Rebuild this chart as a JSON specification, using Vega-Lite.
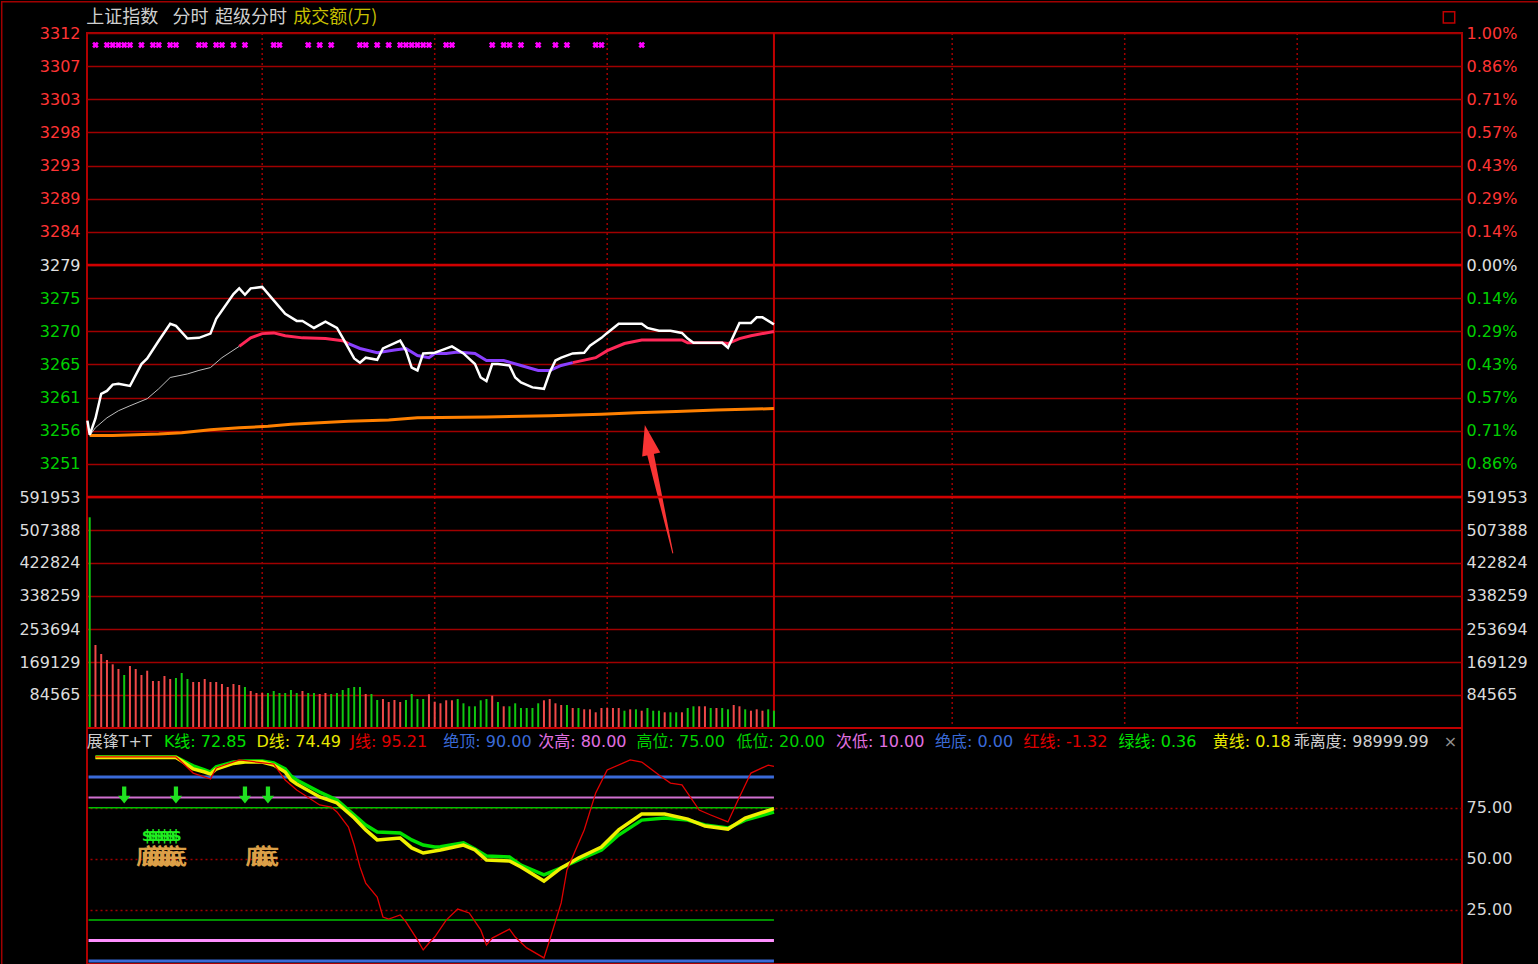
{
"$schema": "https://vega.github.io/schema/vega-lite/v6.json",
"width": 1375,
"height": 931,
"autosize": {"type": "none"},
"padding": {"left": 87, "top": 33, "right": 76, "bottom": 0},
"background": "#000000",
"config": {
  "view": {"stroke": "#b00000", "strokeWidth": 2},
  "scale": {"continuousPadding": 0},
  "axis": {"labelFont": "DejaVu Sans", "labelFontSize": 16, "ticks": false, "domain": false, "labelOverlap": false, "labelFlush": false}
},
"datasets": {
  "price": [
    {"i":-0.4,"p":3257.3},{"i":0,"p":3255.3},{"i":1,"p":3257.6},{"i":2,"p":3261.1},{"i":3,"p":3261.5},{"i":4,"p":3262.4},{"i":5,"p":3262.5},{"i":7,"p":3262.2},{"i":9,"p":3265.3},{"i":10,"p":3266.1},{"i":12,"p":3268.6},{"i":14,"p":3271.0},{"i":15,"p":3270.7},{"i":17,"p":3268.9},{"i":19,"p":3269.0},{"i":21,"p":3269.6},{"i":22,"p":3271.7},{"i":25,"p":3275.2},{"i":26,"p":3276.0},{"i":27,"p":3275.1},{"i":28,"p":3276.0},{"i":30,"p":3276.2},{"i":32,"p":3274.3},{"i":34,"p":3272.4},{"i":36,"p":3271.4},{"i":37,"p":3271.4},{"i":39,"p":3270.4},{"i":41,"p":3271.3},{"i":43,"p":3270.4},{"i":44,"p":3269.0},{"i":46,"p":3266.1},{"i":47,"p":3265.5},{"i":48,"p":3266.2},{"i":50,"p":3265.9},{"i":51,"p":3267.5},{"i":54,"p":3268.6},{"i":55,"p":3267.2},{"i":56,"p":3264.8},{"i":57,"p":3264.4},{"i":58,"p":3266.8},{"i":60,"p":3266.9},{"i":61,"p":3267.2},{"i":63,"p":3267.8},{"i":65,"p":3266.8},{"i":67,"p":3265.3},{"i":68,"p":3263.4},{"i":69,"p":3262.9},{"i":70,"p":3265.3},{"i":71,"p":3265.3},{"i":73,"p":3265.1},{"i":74,"p":3263.4},{"i":75,"p":3262.7},{"i":77,"p":3262.0},{"i":79,"p":3261.8},{"i":80,"p":3264.1},{"i":81,"p":3265.8},{"i":82,"p":3266.2},{"i":84,"p":3266.8},{"i":86,"p":3266.9},{"i":87,"p":3267.9},{"i":89,"p":3269.0},{"i":90,"p":3269.7},{"i":92,"p":3271.0},{"i":96,"p":3271.0},{"i":97,"p":3270.4},{"i":99,"p":3270.0},{"i":101,"p":3270.0},{"i":103,"p":3269.7},{"i":104,"p":3268.9},{"i":105,"p":3268.3},{"i":110,"p":3268.3},{"i":111,"p":3267.6},{"i":113,"p":3271.1},{"i":115,"p":3271.1},{"i":116,"p":3271.9},{"i":117,"p":3271.9},{"i":119,"p":3270.9}
  ],
  "avg": [
    {"i":0,"p":3255.2,"seg":"a"},{"i":1,"p":3256.3,"seg":"a"},{"i":3,"p":3257.7,"seg":"a"},{"i":5,"p":3258.7,"seg":"a"},{"i":7,"p":3259.4,"seg":"a"},{"i":10,"p":3260.4,"seg":"a"},{"i":12,"p":3261.8,"seg":"a"},{"i":14,"p":3263.4,"seg":"a"},{"i":17,"p":3263.9,"seg":"a"},{"i":19,"p":3264.4,"seg":"a"},{"i":21,"p":3264.8,"seg":"a"},{"i":23,"p":3266.2,"seg":"a"},{"i":26,"p":3267.8,"seg":"a"},
    {"i":26,"p":3267.8,"seg":"b"},{"i":28,"p":3269.0,"seg":"b"},{"i":30,"p":3269.6,"seg":"b"},{"i":32,"p":3269.7,"seg":"b"},{"i":34,"p":3269.3,"seg":"b"},{"i":37,"p":3269.0,"seg":"b"},{"i":41,"p":3268.9,"seg":"b"},{"i":44,"p":3268.6,"seg":"b"},{"i":45,"p":3268.2,"seg":"b"},
    {"i":45,"p":3268.2,"seg":"c"},{"i":47,"p":3267.5,"seg":"c"},{"i":50,"p":3266.9,"seg":"c"},{"i":53,"p":3267.3,"seg":"c"},{"i":55,"p":3267.5,"seg":"c"},{"i":57,"p":3266.5,"seg":"c"},{"i":59,"p":3266.2,"seg":"c"},{"i":60,"p":3266.8,"seg":"c"},{"i":62,"p":3266.8,"seg":"c"},{"i":64,"p":3267.0,"seg":"c"},{"i":67,"p":3266.8,"seg":"c"},{"i":69,"p":3265.8,"seg":"c"},{"i":72,"p":3265.8,"seg":"c"},{"i":75,"p":3265.1,"seg":"c"},{"i":78,"p":3264.4,"seg":"c"},{"i":80,"p":3264.4,"seg":"c"},{"i":82,"p":3265.1,"seg":"c"},{"i":84,"p":3265.5,"seg":"c"},
    {"i":84,"p":3265.5,"seg":"d"},{"i":88,"p":3266.2,"seg":"d"},{"i":90,"p":3267.2,"seg":"d"},{"i":93,"p":3268.2,"seg":"d"},{"i":96,"p":3268.7,"seg":"d"},{"i":103,"p":3268.7,"seg":"d"},{"i":104,"p":3268.3,"seg":"d"},{"i":110,"p":3268.3,"seg":"d"},{"i":111,"p":3268.2,"seg":"d"},{"i":113,"p":3268.9,"seg":"d"},{"i":115,"p":3269.3,"seg":"d"},{"i":119,"p":3269.9,"seg":"d"}
  ],
  "orange": [
    {"i":0,"p":3255.2},{"i":4,"p":3255.2},{"i":12,"p":3255.4},{"i":16,"p":3255.6},{"i":21,"p":3256.0},{"i":26,"p":3256.3},{"i":31,"p":3256.5},{"i":35,"p":3256.8},{"i":40,"p":3257.0},{"i":45,"p":3257.2},{"i":52,"p":3257.4},{"i":57,"p":3257.7},{"i":69,"p":3257.8},{"i":80,"p":3258.0},{"i":89,"p":3258.2},{"i":95,"p":3258.4},{"i":102,"p":3258.6},{"i":109,"p":3258.8},{"i":119,"p":3259.0}
  ],
  "marks": [
    {"i":1},{"i":3},{"i":4},{"i":5},{"i":6},{"i":7},{"i":9},{"i":11},{"i":12},{"i":14},{"i":15},{"i":19},{"i":20},{"i":22},{"i":23},{"i":25},{"i":27},{"i":32},{"i":33},{"i":38},{"i":40},{"i":42},{"i":47},{"i":48},{"i":50},{"i":52},{"i":54},{"i":55},{"i":56},{"i":57},{"i":58},{"i":59},{"i":62},{"i":63},{"i":70},{"i":72},{"i":73},{"i":75},{"i":78},{"i":81},{"i":83},{"i":88},{"i":89},{"i":96}
  ],
  "vgrid": [{"i":30},{"i":60},{"i":90},{"i":150},{"i":180},{"i":210}],
  "noon": [{"i":119}],
  "vol": [
    {"i":0,"vol":539940,"d":"G"},{"i":1,"vol":212700,"d":"R"},{"i":2,"vol":189630,"d":"R"},{"i":3,"vol":174260,"d":"R"},{"i":4,"vol":163240,"d":"R"},{"i":5,"vol":151190,"d":"R"},{"i":6,"vol":135820,"d":"G"},{"i":7,"vol":158880,"d":"R"},{"i":8,"vol":151190,"d":"R"},{"i":9,"vol":135820,"d":"R"},{"i":10,"vol":146840,"d":"R"},{"i":11,"vol":120440,"d":"R"},{"i":12,"vol":120440,"d":"R"},{"i":13,"vol":133260,"d":"R"},{"i":14,"vol":125570,"d":"R"},{"i":15,"vol":128130,"d":"G"},{"i":16,"vol":140940,"d":"G"},{"i":17,"vol":125570,"d":"G"},{"i":18,"vol":117880,"d":"R"},{"i":19,"vol":117880,"d":"R"},{"i":20,"vol":125570,"d":"R"},{"i":21,"vol":117880,"d":"R"},{"i":22,"vol":117880,"d":"R"},{"i":23,"vol":112750,"d":"R"},{"i":24,"vol":105070,"d":"R"},{"i":25,"vol":112750,"d":"R"},{"i":26,"vol":110190,"d":"R"},{"i":27,"vol":105070,"d":"G"},{"i":28,"vol":94820,"d":"R"},{"i":29,"vol":89690,"d":"R"},{"i":30,"vol":89690,"d":"R"},{"i":31,"vol":89690,"d":"G"},{"i":32,"vol":94820,"d":"G"},{"i":33,"vol":89690,"d":"G"},{"i":34,"vol":89690,"d":"G"},{"i":35,"vol":97380,"d":"G"},{"i":36,"vol":89690,"d":"G"},{"i":37,"vol":94820,"d":"R"},{"i":38,"vol":89690,"d":"G"},{"i":39,"vol":89690,"d":"G"},{"i":40,"vol":87130,"d":"R"},{"i":41,"vol":89690,"d":"R"},{"i":42,"vol":87130,"d":"G"},{"i":43,"vol":89690,"d":"G"},{"i":44,"vol":97380,"d":"G"},{"i":45,"vol":102500,"d":"G"},{"i":46,"vol":105070,"d":"G"},{"i":47,"vol":105070,"d":"G"},{"i":48,"vol":87130,"d":"R"},{"i":49,"vol":87130,"d":"G"},{"i":50,"vol":71750,"d":"G"},{"i":51,"vol":74320,"d":"R"},{"i":52,"vol":66630,"d":"R"},{"i":53,"vol":71750,"d":"R"},{"i":54,"vol":66630,"d":"R"},{"i":55,"vol":71750,"d":"G"},{"i":56,"vol":87130,"d":"G"},{"i":57,"vol":74320,"d":"G"},{"i":58,"vol":74320,"d":"G"},{"i":59,"vol":86360,"d":"R"},{"i":60,"vol":67400,"d":"R"},{"i":61,"vol":63300,"d":"R"},{"i":62,"vol":70980,"d":"R"},{"i":63,"vol":70980,"d":"R"},{"i":64,"vol":74320,"d":"G"},{"i":65,"vol":63300,"d":"G"},{"i":66,"vol":55610,"d":"G"},{"i":67,"vol":55610,"d":"G"},{"i":68,"vol":70980,"d":"G"},{"i":69,"vol":74320,"d":"G"},{"i":70,"vol":82770,"d":"R"},{"i":71,"vol":66630,"d":"G"},{"i":72,"vol":55610,"d":"R"},{"i":73,"vol":55610,"d":"G"},{"i":74,"vol":63300,"d":"G"},{"i":75,"vol":51250,"d":"G"},{"i":76,"vol":51250,"d":"G"},{"i":77,"vol":51250,"d":"G"},{"i":78,"vol":63300,"d":"G"},{"i":79,"vol":70980,"d":"R"},{"i":80,"vol":74320,"d":"R"},{"i":81,"vol":63300,"d":"R"},{"i":82,"vol":58940,"d":"R"},{"i":83,"vol":58940,"d":"G"},{"i":84,"vol":51250,"d":"R"},{"i":85,"vol":51250,"d":"G"},{"i":86,"vol":47920,"d":"R"},{"i":87,"vol":47920,"d":"R"},{"i":88,"vol":40230,"d":"R"},{"i":89,"vol":51250,"d":"R"},{"i":90,"vol":51250,"d":"R"},{"i":91,"vol":51250,"d":"R"},{"i":92,"vol":51250,"d":"R"},{"i":93,"vol":44330,"d":"G"},{"i":94,"vol":47920,"d":"R"},{"i":95,"vol":47920,"d":"G"},{"i":96,"vol":44330,"d":"R"},{"i":97,"vol":51250,"d":"G"},{"i":98,"vol":44330,"d":"G"},{"i":99,"vol":44330,"d":"G"},{"i":100,"vol":40230,"d":"R"},{"i":101,"vol":40230,"d":"G"},{"i":102,"vol":40230,"d":"G"},{"i":103,"vol":40230,"d":"R"},{"i":104,"vol":51250,"d":"G"},{"i":105,"vol":55610,"d":"G"},{"i":106,"vol":55610,"d":"R"},{"i":107,"vol":55610,"d":"R"},{"i":108,"vol":51250,"d":"G"},{"i":109,"vol":51250,"d":"R"},{"i":110,"vol":51250,"d":"G"},{"i":111,"vol":47920,"d":"G"},{"i":112,"vol":58940,"d":"R"},{"i":113,"vol":55610,"d":"R"},{"i":114,"vol":47920,"d":"G"},{"i":115,"vol":44330,"d":"R"},{"i":116,"vol":47920,"d":"R"},{"i":117,"vol":44330,"d":"R"},{"i":118,"vol":47920,"d":"G"},{"i":119,"vol":44330,"d":"G"}
  ],
  "K": [
    {"i":1,"v":99.8},{"i":15,"v":99.8},{"i":16,"v":98.3},{"i":18,"v":95.4},{"i":20,"v":93.4},{"i":21,"v":92.4},{"i":22,"v":94.9},{"i":25,"v":97.3},{"i":27,"v":97.8},{"i":30,"v":97.8},{"i":32,"v":96.8},{"i":34,"v":93.9},{"i":35,"v":90.5},{"i":36,"v":88.5},{"i":40,"v":82.6},{"i":43,"v":78.7},{"i":46,"v":71.4},{"i":48,"v":66.5},{"i":50,"v":63.1},{"i":54,"v":62.6},{"i":56,"v":59.2},{"i":58,"v":56.7},{"i":60,"v":55.7},{"i":61,"v":55.9},{"i":65,"v":57.8},{"i":67,"v":54.8},{"i":69,"v":51.3},{"i":73,"v":50.9},{"i":75,"v":46.9},{"i":79,"v":42.1},{"i":82,"v":45.5},{"i":85,"v":49.4},{"i":89,"v":54.3},{"i":92,"v":61.6},{"i":96,"v":68.9},{"i":100,"v":69.9},{"i":104,"v":68.9},{"i":107,"v":66.5},{"i":111,"v":65.0},{"i":114,"v":68.9},{"i":119,"v":72.85}
  ],
  "D": [
    {"i":1,"v":99.5},{"i":15,"v":99.5},{"i":16,"v":97.8},{"i":18,"v":93.9},{"i":20,"v":92.4},{"i":21,"v":91.4},{"i":22,"v":93.9},{"i":25,"v":96.6},{"i":27,"v":97.3},{"i":30,"v":97.3},{"i":32,"v":95.8},{"i":34,"v":92.4},{"i":35,"v":88.5},{"i":36,"v":86.6},{"i":40,"v":80.2},{"i":43,"v":77.3},{"i":46,"v":69.9},{"i":48,"v":64.1},{"i":50,"v":59.2},{"i":54,"v":60.1},{"i":56,"v":55.3},{"i":58,"v":52.8},{"i":61,"v":54.3},{"i":65,"v":56.7},{"i":67,"v":54.3},{"i":69,"v":49.4},{"i":73,"v":48.9},{"i":75,"v":46.0},{"i":79,"v":39.1},{"i":82,"v":45.5},{"i":85,"v":50.4},{"i":89,"v":55.7},{"i":92,"v":64.1},{"i":96,"v":71.9},{"i":100,"v":71.9},{"i":104,"v":69.4},{"i":107,"v":66.0},{"i":111,"v":64.5},{"i":114,"v":69.9},{"i":119,"v":74.49}
  ],
  "J": [
    {"i":1,"v":99.8},{"i":15,"v":99.8},{"i":16,"v":97.3},{"i":18,"v":91.9},{"i":21,"v":89.0},{"i":22,"v":94.4},{"i":26,"v":98.3},{"i":29,"v":97.3},{"i":32,"v":96.3},{"i":34,"v":88.5},{"i":36,"v":83.6},{"i":40,"v":76.3},{"i":42,"v":75.3},{"i":43,"v":72.9},{"i":45,"v":65.5},{"i":46,"v":56.7},{"i":47,"v":46.0},{"i":48,"v":38.1},{"i":50,"v":31.3},{"i":51,"v":21.5},{"i":52,"v":20.5},{"i":54,"v":22.5},{"i":55,"v":19.1},{"i":57,"v":10.3},{"i":58,"v":5.4},{"i":59,"v":8.8},{"i":60,"v":11.7},{"i":62,"v":20.0},{"i":64,"v":25.4},{"i":66,"v":23.5},{"i":68,"v":15.2},{"i":69,"v":7.8},{"i":70,"v":11.2},{"i":73,"v":15.6},{"i":74,"v":11.7},{"i":76,"v":6.4},{"i":79,"v":1.5},{"i":80,"v":10.3},{"i":82,"v":28.4},{"i":83,"v":44.5},{"i":86,"v":64.1},{"i":88,"v":82.2},{"i":90,"v":93.4},{"i":94,"v":98.3},{"i":96,"v":97.3},{"i":99,"v":91.0},{"i":101,"v":87.0},{"i":103,"v":86.1},{"i":106,"v":73.8},{"i":108,"v":71.4},{"i":111,"v":68.0},{"i":113,"v":80.2},{"i":115,"v":91.9},{"i":118,"v":95.8},{"i":119,"v":95.21}
  ],
  "sellarrows": [{"i":6},{"i":15},{"i":27},{"i":31}],
  "dollar": [{"i":10},{"i":11},{"i":12},{"i":13},{"i":14},{"i":15}],
  "bottom": [{"i":10},{"i":11},{"i":12},{"i":13},{"i":14},{"i":15},{"i":29},{"i":30},{"i":31}],
  "head": [
    {"t":"上证指数","i":-0.6,"g":"w"},{"t":"分时","i":14.4,"g":"w"},{"t":"超级分时","i":21.8,"g":"w"},{"t":"成交额(万)","i":35.4,"g":"y"}
  ],
  "ihead": [
    {"t":"展锋T+T","i":-0.52,"g":"n"},{"t":"K线: 72.85","i":12.9,"g":"K"},{"t":"D线: 74.49","i":29.0,"g":"D"},{"t":"J线: 95.21","i":45.3,"g":"J"},{"t":"绝顶: 90.00","i":61.5,"g":"b"},{"t":"次高: 80.00","i":78.0,"g":"p"},{"t":"高位: 75.00","i":95.1,"g":"g"},{"t":"低位: 20.00","i":112.5,"g":"g"},{"t":"次低: 10.00","i":129.8,"g":"p"},{"t":"绝底: 0.00","i":147.0,"g":"b"},{"t":"红线: -1.32","i":162.4,"g":"J"},{"t":"绿线: 0.36","i":178.9,"g":"K"},{"t":"黄线: 0.18","i":195.3,"g":"D"},{"t":"乖离度: 98999.99","i":209.4,"g":"n"},{"t":"×","i":235.5,"g":"x"}
  ],
  "arrow": [{"i":101.4,"p":3238.6,"t":0},{"i":97.4,"p":3253.0,"t":1}],
  "arrowhead": [{"i":97.1,"p":3254.6}],
  "frame": [{"i":-15.4},{"i":251.9}],
  "icon": [{"i":236.4,"p":3314.3}]
},
"layer": [
  {
    "layer": [
      {"data": {"name": "frame"}, "mark": {"type": "line", "color": "#a00000", "strokeWidth": 1.5, "clip": false},
       "encoding": {"x": {"field": "i", "type": "quantitative", "scale": {"domain": [-0.47, 238.66], "nice": false, "zero": false}, "axis": null},
                    "y": {"datum": 3316.5, "type": "quantitative", "axis": null}}},
      {"data": {"values": [{}]}, "mark": {"type": "rule", "color": "#a00000", "strokeWidth": 1.5},
       "encoding": {"x": {"datum": -15.3, "type": "quantitative", "scale": {"domain": [-0.47, 238.66], "nice": false, "zero": false}, "axis": null},
                    "y": {"datum": 3316.6, "type": "quantitative", "axis": null}, "y2": {"datum": 3180.5}}},
      {"data": {"name": "icon"}, "mark": {"type": "point", "shape": "square", "filled": false, "color": "#c00000", "strokeWidth": 1.5, "size": 130, "opacity": 1},
       "encoding": {"x": {"field": "i", "type": "quantitative", "scale": {"domain": [-0.47, 238.66], "nice": false, "zero": false}, "axis": null},
                    "y": {"field": "p", "type": "quantitative", "scale": {"domain": [3246.507, 3312.093], "range": [464, 0], "nice": false, "zero": false}, "axis": null}}},
      {"data": {"name": "vgrid"}, "mark": {"type": "rule", "color": "#a00000", "strokeWidth": 1.5, "strokeDash": [2, 3]},
       "encoding": {"x": {"field": "i", "type": "quantitative", "scale": {"domain": [-0.47, 238.66], "nice": false, "zero": false}, "axis": null},
                    "y": {"datum": 3312.093, "type": "quantitative", "axis": null}, "y2": {"datum": 3246.507}}},
      {"data": {"name": "noon"}, "mark": {"type": "rule", "color": "#c00000", "strokeWidth": 2},
       "encoding": {"x": {"field": "i", "type": "quantitative", "scale": {"domain": [-0.47, 238.66], "nice": false, "zero": false}, "axis": null},
                    "y": {"datum": 3312.093, "type": "quantitative", "axis": null}, "y2": {"datum": 3246.507}}},
      {"data": {"values": [{}]}, "mark": {"type": "rule", "color": "#d00000", "strokeWidth": 2.5},
       "encoding": {"y": {"datum": 3279.3, "type": "quantitative", "axis": null}}},
      {"data": {"name": "orange"}, "mark": {"type": "line", "color": "#ff8000", "strokeWidth": 3},
       "encoding": {"x": {"field": "i", "type": "quantitative", "scale": {"domain": [-0.47, 238.66], "nice": false, "zero": false}, "axis": null},
                    "y": {"field": "p", "type": "quantitative", "scale": {"domain": [3246.507, 3312.093], "range": [464, 0], "nice": false, "zero": false}, "axis": null}}},
      {"data": {"name": "avg"}, "transform": [{"filter": "datum.seg == 'a'"}], "mark": {"type": "line", "color": "#bdbdbd", "strokeWidth": 1},
       "encoding": {"x": {"field": "i", "type": "quantitative", "scale": {"domain": [-0.47, 238.66], "nice": false, "zero": false}, "axis": null},
                    "y": {"field": "p", "type": "quantitative", "scale": {"domain": [3246.507, 3312.093], "range": [464, 0], "nice": false, "zero": false}, "axis": null}}},
      {"data": {"name": "avg"}, "transform": [{"filter": "datum.seg == 'b' || datum.seg == 'd'"}], "mark": {"type": "line", "color": "#ff2858", "strokeWidth": 3},
       "encoding": {"x": {"field": "i", "type": "quantitative", "scale": {"domain": [-0.47, 238.66], "nice": false, "zero": false}, "axis": null},
                    "detail": {"field": "seg", "type": "nominal"},
                    "y": {"field": "p", "type": "quantitative", "scale": {"domain": [3246.507, 3312.093], "range": [464, 0], "nice": false, "zero": false},
                          "axis": {"orient": "right", "title": null, "values": [3251.192, 3255.876, 3260.561, 3265.246, 3269.931, 3274.615, 3279.3, 3283.985, 3288.669, 3293.354, 3298.039, 3302.724, 3307.408, 3312.093],
                                   "labelExpr": "format(abs(datum.value/3279.3-1)*100, '.2f') + '%'",
                                   "labelColor": {"condition": [{"test": "datum.value > 3280", "value": "#ff3434"}, {"test": "datum.value < 3278", "value": "#00d000"}], "value": "#e0e0e0"},
                                   "labelPadding": 4, "grid": false}}}},
      {"data": {"name": "avg"}, "transform": [{"filter": "datum.seg == 'c'"}], "mark": {"type": "line", "color": "#8a40ff", "strokeWidth": 3},
       "encoding": {"x": {"field": "i", "type": "quantitative", "scale": {"domain": [-0.47, 238.66], "nice": false, "zero": false}, "axis": null},
                    "y": {"field": "p", "type": "quantitative", "scale": {"domain": [3246.507, 3312.093], "range": [464, 0], "nice": false, "zero": false}, "axis": null}}},
      {"data": {"name": "price"}, "mark": {"type": "line", "color": "#ffffff", "strokeWidth": 2.5},
       "encoding": {"x": {"field": "i", "type": "quantitative", "scale": {"domain": [-0.47, 238.66], "nice": false, "zero": false}, "axis": null},
                    "y": {"field": "p", "type": "quantitative", "scale": {"domain": [3246.507, 3312.093], "range": [464, 0], "nice": false, "zero": false},
                          "axis": {"orient": "left", "title": null, "values": [3251.192, 3255.876, 3260.561, 3265.246, 3269.931, 3274.615, 3279.3, 3283.985, 3288.669, 3293.354, 3298.039, 3302.724, 3307.408, 3312.093],
                                   "labelExpr": "format(round(datum.value), 'd')",
                                   "labelColor": {"condition": [{"test": "datum.value > 3280", "value": "#ff3434"}, {"test": "datum.value < 3278", "value": "#00d000"}], "value": "#e0e0e0"},
                                   "labelPadding": 7, "grid": true, "gridColor": "#a00000", "gridWidth": 1.5}}}},
      {"data": {"name": "marks"}, "mark": {"type": "point", "shape": "cross", "angle": 45, "filled": true, "color": "#ff00ff", "size": 45, "opacity": 1},
       "encoding": {"x": {"field": "i", "type": "quantitative", "scale": {"domain": [-0.47, 238.66], "nice": false, "zero": false}, "axis": null},
                    "y": {"datum": 3310.4, "type": "quantitative", "axis": null}}},
      {"data": {"name": "head"}, "mark": {"type": "text", "align": "left", "baseline": "middle", "font": "Noto Sans CJK SC", "fontSize": 18},
       "encoding": {"x": {"field": "i", "type": "quantitative", "scale": {"domain": [-0.47, 238.66], "nice": false, "zero": false}, "axis": null},
                    "y": {"datum": 3314.2, "type": "quantitative", "axis": null},
                    "text": {"field": "t"},
                    "color": {"field": "g", "type": "nominal", "scale": {"domain": ["w", "y"], "range": ["#cfcfcf", "#c8c000"]}, "legend": null}}},
      {"data": {"name": "arrow"}, "mark": {"type": "trail", "color": "#f83434"},
       "encoding": {"x": {"field": "i", "type": "quantitative", "scale": {"domain": [-0.47, 238.66], "nice": false, "zero": false}, "axis": null},
                    "y": {"field": "p", "type": "quantitative", "scale": {"domain": [3246.507, 3312.093], "range": [464, 0], "nice": false, "zero": false}, "axis": null},
                    "size": {"field": "t", "type": "quantitative", "scale": {"domain": [0, 1], "range": [1, 7]}, "legend": null}}},
      {"data": {"name": "arrowhead"}, "mark": {"type": "point", "shape": "M0,-1L0.62,1L-0.62,1Z", "angle": -12.3, "filled": true, "color": "#f83434", "size": 900, "opacity": 1},
       "encoding": {"x": {"field": "i", "type": "quantitative", "scale": {"domain": [-0.47, 238.66], "nice": false, "zero": false}, "axis": null},
                    "y": {"field": "p", "type": "quantitative", "scale": {"domain": [3246.507, 3312.093], "range": [464, 0], "nice": false, "zero": false}, "axis": null}}}
    ],
    "resolve": {"axis": {"y": "independent"}}
  },
  {
    "layer": [
      {"data": {"name": "vgrid"}, "mark": {"type": "rule", "color": "#a00000", "strokeWidth": 1.5, "strokeDash": [2, 3]},
       "encoding": {"x": {"field": "i", "type": "quantitative", "scale": {"domain": [-0.47, 238.66], "nice": false, "zero": false}, "axis": null},
                    "y": {"datum": 591953, "type": "quantitative", "axis": null}, "y2": {"datum": 0}}},
      {"data": {"name": "noon"}, "mark": {"type": "rule", "color": "#c00000", "strokeWidth": 2},
       "encoding": {"x": {"field": "i", "type": "quantitative", "scale": {"domain": [-0.47, 238.66], "nice": false, "zero": false}, "axis": null},
                    "y": {"datum": 591953, "type": "quantitative", "axis": null}, "y2": {"datum": 0}}},
      {"data": {"name": "vol"}, "transform": [{"filter": "datum.d == 'R'"}], "mark": {"type": "bar", "color": "#f04848", "width": 2},
       "encoding": {"x": {"field": "i", "type": "quantitative", "scale": {"domain": [-0.47, 238.66], "nice": false, "zero": false}, "axis": null},
                    "y": {"field": "vol", "type": "quantitative", "scale": {"domain": [0, 591953], "range": [695, 464], "nice": false, "zero": false},
                          "axis": {"orient": "left", "title": null, "values": [84565, 169129, 253694, 338259, 422824, 507388, 591953],
                                   "labelExpr": "format(datum.value, 'd')", "labelColor": "#dcdcdc", "labelPadding": 7,
                                   "grid": true, "gridColor": "#a00000", "gridWidth": 1.5}}}},
      {"data": {"name": "vol"}, "transform": [{"filter": "datum.d == 'G'"}], "mark": {"type": "bar", "color": "#10c810", "width": 2},
       "encoding": {"x": {"field": "i", "type": "quantitative", "scale": {"domain": [-0.47, 238.66], "nice": false, "zero": false}, "axis": null},
                    "y": {"field": "vol", "type": "quantitative", "scale": {"domain": [0, 591953], "range": [695, 464], "nice": false, "zero": false},
                          "axis": {"orient": "right", "title": null, "values": [84565, 169129, 253694, 338259, 422824, 507388, 591953],
                                   "labelExpr": "format(datum.value, 'd')", "labelColor": "#dcdcdc", "labelPadding": 4, "grid": false}}}},
      {"data": {"values": [{}]}, "mark": {"type": "rule", "color": "#d00000", "strokeWidth": 2.5},
       "encoding": {"y": {"datum": 591953, "type": "quantitative", "axis": null}}},
      {"data": {"values": [{}]}, "mark": {"type": "rule", "color": "#c00000", "strokeWidth": 2},
       "encoding": {"y": {"datum": 0, "type": "quantitative", "axis": null}}}
    ],
    "resolve": {"axis": {"y": "independent"}}
  },
  {
    "layer": [
      {"data": {"values": [{}]}, "mark": {"type": "rule", "color": "#3a6ad8", "strokeWidth": 3},
       "encoding": {"x": {"datum": -0.2, "type": "quantitative", "scale": {"domain": [-0.47, 238.66], "nice": false, "zero": false}, "axis": null}, "x2": {"datum": 119},
                    "y": {"datum": 90, "type": "quantitative", "axis": null}}},
      {"data": {"values": [{}]}, "mark": {"type": "rule", "color": "#d070d0", "strokeWidth": 2},
       "encoding": {"x": {"datum": -0.2, "type": "quantitative", "scale": {"domain": [-0.47, 238.66], "nice": false, "zero": false}, "axis": null}, "x2": {"datum": 119},
                    "y": {"datum": 80, "type": "quantitative", "axis": null}}},
      {"data": {"values": [{}]}, "mark": {"type": "rule", "color": "#00c000", "strokeWidth": 1.5},
       "encoding": {"x": {"datum": -0.2, "type": "quantitative", "scale": {"domain": [-0.47, 238.66], "nice": false, "zero": false}, "axis": null}, "x2": {"datum": 119},
                    "y": {"datum": 75, "type": "quantitative", "axis": null}}},
      {"data": {"values": [{}]}, "mark": {"type": "rule", "color": "#00c000", "strokeWidth": 1.5},
       "encoding": {"x": {"datum": -0.2, "type": "quantitative", "scale": {"domain": [-0.47, 238.66], "nice": false, "zero": false}, "axis": null}, "x2": {"datum": 119},
                    "y": {"datum": 20, "type": "quantitative", "axis": null}}},
      {"data": {"values": [{}]}, "mark": {"type": "rule", "color": "#ff90ff", "strokeWidth": 3},
       "encoding": {"x": {"datum": -0.2, "type": "quantitative", "scale": {"domain": [-0.47, 238.66], "nice": false, "zero": false}, "axis": null}, "x2": {"datum": 119},
                    "y": {"datum": 10, "type": "quantitative", "axis": null}}},
      {"data": {"values": [{}]}, "mark": {"type": "rule", "color": "#3a6ad8", "strokeWidth": 3},
       "encoding": {"x": {"datum": -0.2, "type": "quantitative", "scale": {"domain": [-0.47, 238.66], "nice": false, "zero": false}, "axis": null}, "x2": {"datum": 119},
                    "y": {"datum": 0, "type": "quantitative", "axis": null}}},
      {"data": {"name": "K"}, "mark": {"type": "line", "color": "#00e000", "strokeWidth": 3.5},
       "encoding": {"x": {"field": "i", "type": "quantitative", "scale": {"domain": [-0.47, 238.66], "nice": false, "zero": false}, "axis": null},
                    "y": {"field": "v", "type": "quantitative", "scale": {"domain": [0, 100], "range": [928, 723.5], "nice": false, "zero": false},
                          "axis": {"orient": "right", "title": null, "values": [25, 50, 75], "labelExpr": "format(datum.value, '.2f')", "labelColor": "#d8d8d8", "labelPadding": 4,
                                   "grid": true, "gridColor": "#a00000", "gridWidth": 1.5, "gridDash": [2, 3]}}}},
      {"data": {"name": "D"}, "mark": {"type": "line", "color": "#f0f000", "strokeWidth": 3.5},
       "encoding": {"x": {"field": "i", "type": "quantitative", "scale": {"domain": [-0.47, 238.66], "nice": false, "zero": false}, "axis": null},
                    "y": {"field": "v", "type": "quantitative", "scale": {"domain": [0, 100], "range": [928, 723.5], "nice": false, "zero": false}, "axis": null}}},
      {"data": {"name": "J"}, "mark": {"type": "line", "color": "#e00000", "strokeWidth": 1.3},
       "encoding": {"x": {"field": "i", "type": "quantitative", "scale": {"domain": [-0.47, 238.66], "nice": false, "zero": false}, "axis": null},
                    "y": {"field": "v", "type": "quantitative", "scale": {"domain": [0, 100], "range": [928, 723.5], "nice": false, "zero": false}, "axis": null}}},
      {"data": {"name": "sellarrows"}, "mark": {"type": "point", "shape": "M-0.25,-1L0.25,-1L0.25,0.1L0.72,0.1L0,1L-0.72,0.1L-0.25,0.1Z", "filled": true, "color": "#20e020", "size": 289, "opacity": 1},
       "encoding": {"x": {"field": "i", "type": "quantitative", "scale": {"domain": [-0.47, 238.66], "nice": false, "zero": false}, "axis": null},
                    "y": {"datum": 81.2, "type": "quantitative", "axis": null}}},
      {"data": {"name": "bottom"}, "mark": {"type": "text", "text": "底", "font": "Noto Sans CJK SC", "fontWeight": "bold", "fontSize": 22, "color": "#dca048", "baseline": "middle", "align": "center"},
       "encoding": {"x": {"field": "i", "type": "quantitative", "scale": {"domain": [-0.47, 238.66], "nice": false, "zero": false}, "axis": null},
                    "y": {"datum": 51, "type": "quantitative", "axis": null}}},
      {"data": {"name": "dollar"}, "mark": {"type": "text", "text": "$", "font": "DejaVu Sans", "fontWeight": "bold", "fontSize": 16, "color": "#20f020", "baseline": "middle", "align": "center"},
       "encoding": {"x": {"field": "i", "type": "quantitative", "scale": {"domain": [-0.47, 238.66], "nice": false, "zero": false}, "axis": null},
                    "y": {"datum": 61.1, "type": "quantitative", "axis": null}}},
      {"data": {"name": "ihead"}, "mark": {"type": "text", "align": "left", "baseline": "middle", "font": "DejaVu Sans, Noto Sans CJK SC", "fontSize": 16},
       "encoding": {"x": {"field": "i", "type": "quantitative", "scale": {"domain": [-0.47, 238.66], "nice": false, "zero": false}, "axis": null},
                    "y": {"datum": 107.1, "type": "quantitative", "axis": null},
                    "text": {"field": "t"},
                    "color": {"field": "g", "type": "nominal", "scale": {"domain": ["n", "K", "D", "J", "b", "p", "g", "x"], "range": ["#cfcfcf", "#00e000", "#e8e800", "#e00000", "#3a6ad8", "#e070e0", "#00d000", "#909090"]}, "legend": null}}}
    ],
    "resolve": {"axis": {"y": "independent"}}
  }
],
"resolve": {"scale": {"y": "independent", "color": "independent", "size": "independent"}}
}
